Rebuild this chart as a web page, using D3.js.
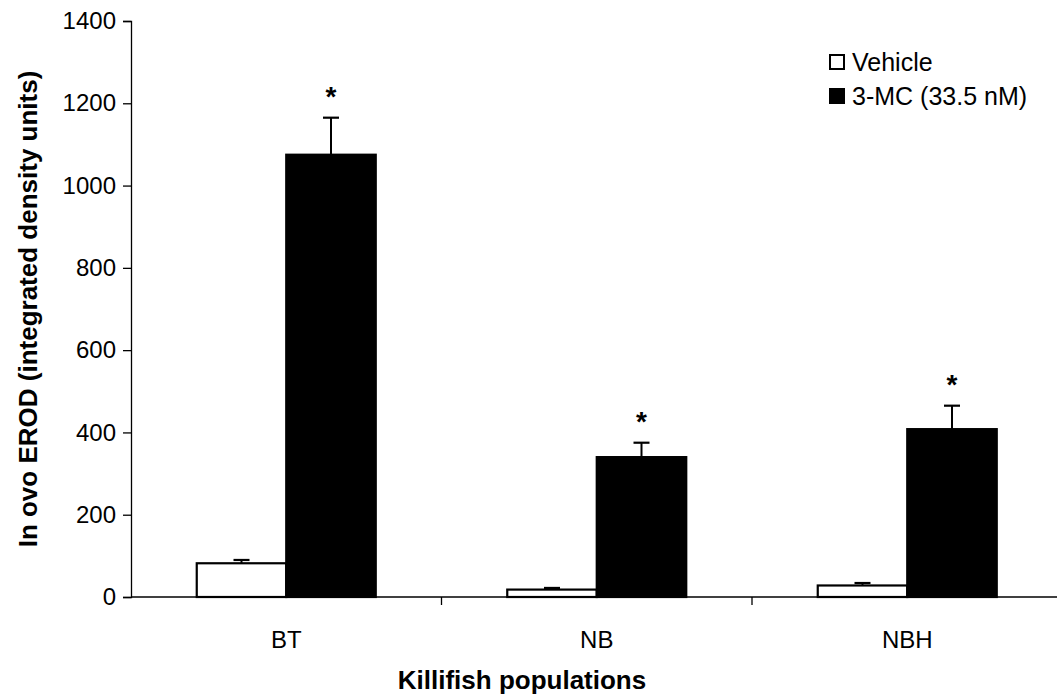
<!DOCTYPE html>
<html>
<head>
<meta charset="utf-8">
<script src="https://cdn.jsdelivr.net/npm/d3@7/dist/d3.min.js"></script>
<style>
  html, body { margin: 0; padding: 0; background: #fff; }
  svg { display: block; font-family: Arial, "Liberation Sans", sans-serif; }
</style>
</head>
<body>
<svg id="chart" width="1057" height="696"></svg>
<script>
// Population groups and treatment series
const categories = ["BT", "NB", "NBH"];
const series = ["Vehicle", "3-MC (33.5 nM)"];
const vehicleMeans = [82, 18, 28];
const vehicleErrors = [8, 4, 6];
const mcMeans = [1075, 340, 408];
const mcErrors = [90, 35, 57];
const significant = [true, true, true];
const yTicks = [0, 200, 400, 600, 800, 1000, 1200, 1400];

const svg = d3.select("#chart");

const plot = { left: 131, top: 21, bottom: 597, catWidth: 310.5 };
const right = plot.left + plot.catWidth * categories.length;

const y = d3.scaleLinear().domain([0, 1400]).range([plot.bottom, plot.top]);
const x0 = d3.scaleBand().domain(categories).range([plot.left, right]).paddingInner(0).paddingOuter(0);
const groupWidth = 179;
const x1 = d3.scaleBand().domain(series).range([0, groupWidth]);
const groupOffset = (x0.bandwidth() - groupWidth) / 2;

const rows = categories.map((c, i) => ({
  cat: c,
  vals: [
    { s: series[0], v: vehicleMeans[i], e: vehicleErrors[i] },
    { s: series[1], v: mcMeans[i], e: mcErrors[i] }
  ],
  sig: significant[i]
}));

const fill = d3.scaleOrdinal().domain(series).range(["#ffffff", "#000000"]);

// Y axis
const yAxis = d3.axisLeft(y).tickValues(yTicks).tickFormat(d3.format("d")).tickSize(8).tickPadding(7);
const gy = svg.append("g").attr("transform", `translate(${plot.left},0)`).call(yAxis);
gy.select(".domain").attr("stroke", "#000").attr("stroke-width", 1.3);
gy.selectAll(".tick line").attr("stroke", "#000").attr("stroke-width", 1.3);
gy.selectAll(".tick text").attr("font-size", 24).attr("fill", "#000")
  .attr("font-family", "Arial, 'Liberation Sans', sans-serif");

// X axis with tick marks on category boundaries
const gx = svg.append("g").attr("transform", `translate(0,${plot.bottom})`);
gx.append("line").attr("x1", plot.left).attr("x2", right).attr("y1", 0).attr("y2", 0)
  .attr("stroke", "#000").attr("stroke-width", 1.3);
gx.selectAll("line.sep").data(categories.slice(1)).join("line").attr("class", "sep")
  .attr("x1", d => x0(d)).attr("x2", d => x0(d)).attr("y1", 0).attr("y2", 8)
  .attr("stroke", "#000").attr("stroke-width", 1.3);
gx.selectAll("text").data(categories).join("text")
  .attr("x", d => x0(d) + x0.bandwidth() / 2).attr("y", 51)
  .attr("text-anchor", "middle").attr("font-size", 24).text(d => d);

// Bars
const groups = svg.selectAll("g.grp").data(rows).join("g").attr("class", "grp")
  .attr("transform", d => `translate(${x0(d.cat) + groupOffset},0)`);

// Error bars (upper half only)
groups.selectAll("g.err").data(d => d.vals).join("g").attr("class", "err")
  .each(function(d) {
    const g = d3.select(this);
    const cx = x1(d.s) + x1.bandwidth() / 2;
    g.append("line").attr("x1", cx).attr("x2", cx).attr("y1", y(d.v)).attr("y2", y(d.v + d.e))
      .attr("stroke", "#000").attr("stroke-width", 2);
    g.append("line").attr("x1", cx - 8).attr("x2", cx + 8).attr("y1", y(d.v + d.e)).attr("y2", y(d.v + d.e))
      .attr("stroke", "#000").attr("stroke-width", 2.2);
  });

groups.selectAll("rect").data(d => d.vals).join("rect")
  .attr("x", d => x1(d.s)).attr("width", x1.bandwidth())
  .attr("y", d => y(d.v)).attr("height", d => y(0) - y(d.v))
  .attr("fill", d => fill(d.s)).attr("stroke", "#000").attr("stroke-width", 2.2);

// Significance markers
groups.filter(d => d.sig).append("text")
  .attr("x", x1(series[1]) + x1.bandwidth() / 2)
  .attr("y", d => y(d.vals[1].v + d.vals[1].e) - 12)
  .attr("text-anchor", "middle").attr("font-size", 28).attr("font-weight", "bold").text("*");

// Axis titles
svg.append("text").attr("transform", `translate(37,${(plot.top + plot.bottom) / 2}) rotate(-90)`)
  .attr("text-anchor", "middle").attr("font-size", 26).attr("font-weight", "bold")
  .text("In ovo EROD (integrated density units)");
svg.append("text").attr("x", 522).attr("y", 689).attr("text-anchor", "middle")
  .attr("font-size", 26).attr("font-weight", "bold").text("Killifish populations");

// Legend
const legend = svg.append("g").attr("transform", "translate(829,54)");
const li = legend.selectAll("g").data(series).join("g").attr("transform", (d, i) => `translate(0,${i * 34})`);
li.append("rect").attr("x", 1).attr("y", 1).attr("width", 14).attr("height", 14)
  .attr("fill", d => fill(d)).attr("stroke", "#000").attr("stroke-width", 2);
li.append("text").attr("x", 23).attr("y", 17).attr("font-size", 25).text(d => d);
</script>
</body>
</html>
